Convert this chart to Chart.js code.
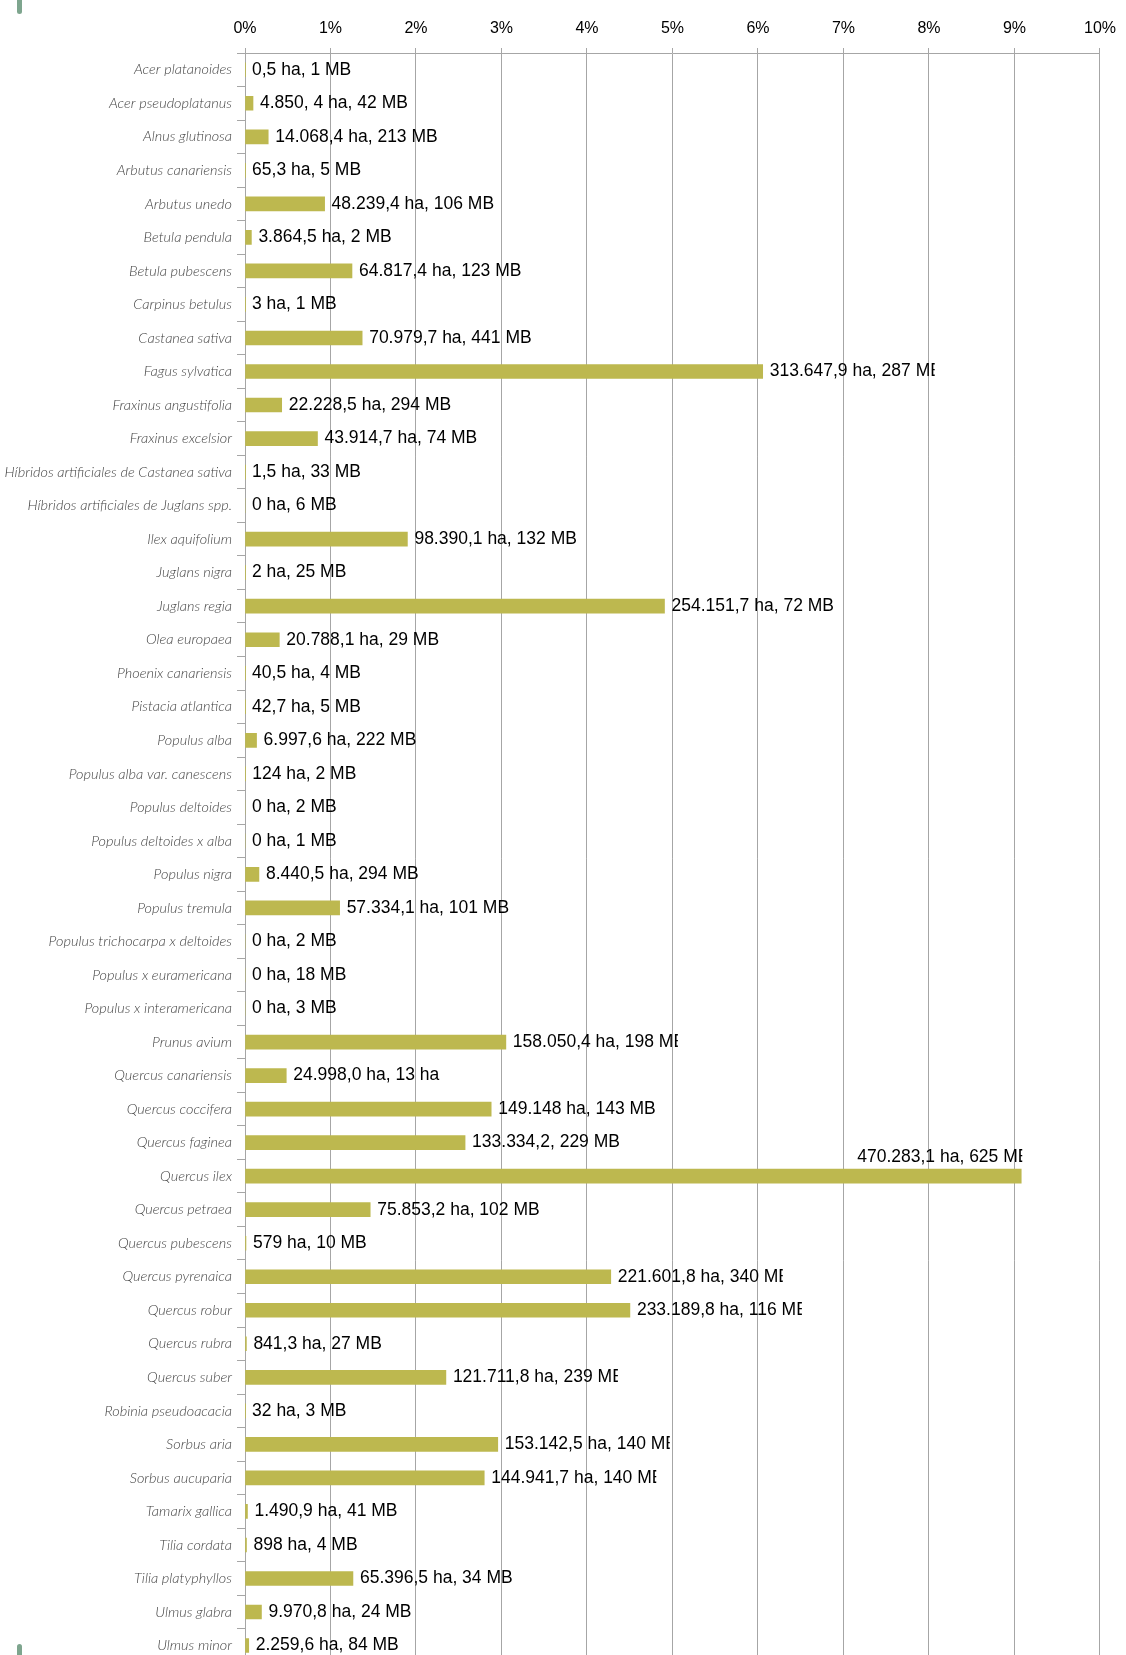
<!DOCTYPE html>
<html lang="es">
<head>
<meta charset="utf-8">
<title>Superficie por especie</title>
<script src="https://cdn.jsdelivr.net/npm/chart.js@4.4.1/dist/chart.umd.min.js"></script>
<style>
  html, body { margin: 0; padding: 0; background: #fff; overflow: hidden; }
  #wrap { position: relative; width: 1126px; height: 1655px; overflow: hidden; }
  #grafico { display: block; }
  .marca { position: absolute; left: 17px; width: 5px; background: #7EA58E; border-radius: 3px; }
</style>
</head>
<body>
<div id="wrap">
  <canvas id="grafico" width="1126" height="1676"></canvas>
  <div class="marca" style="top:-4px;height:18px"></div>
  <div class="marca" style="top:1644px;height:20px"></div>
</div>

<script>
// Especies (eje vertical)
const especies = [
  "Acer platanoides", "Acer pseudoplatanus", "Alnus glutinosa", "Arbutus canariensis",
  "Arbutus unedo", "Betula pendula", "Betula pubescens", "Carpinus betulus",
  "Castanea sativa", "Fagus sylvatica", "Fraxinus angustifolia", "Fraxinus excelsior",
  "Híbridos artificiales de Castanea sativa", "Híbridos artificiales de Juglans spp.",
  "Ilex aquifolium", "Juglans nigra", "Juglans regia", "Olea europaea",
  "Phoenix canariensis", "Pistacia atlantica", "Populus alba", "Populus alba var. canescens",
  "Populus deltoides", "Populus deltoides x alba", "Populus nigra", "Populus tremula",
  "Populus trichocarpa x deltoides", "Populus x euramericana", "Populus x interamericana",
  "Prunus avium", "Quercus canariensis", "Quercus coccifera", "Quercus faginea",
  "Quercus ilex", "Quercus petraea", "Quercus pubescens", "Quercus pyrenaica",
  "Quercus robur", "Quercus rubra", "Quercus suber", "Robinia pseudoacacia",
  "Sorbus aria", "Sorbus aucuparia", "Tamarix gallica", "Tilia cordata",
  "Tilia platyphyllos", "Ulmus glabra", "Ulmus minor"
];

// Superficie (ha) de cada especie
const hectareas = [
  0.5, 4850.4, 14068.4, 65.3,
  48239.4, 3864.5, 64817.4, 3,
  70979.7, 313647.9, 22228.5, 43914.7,
  1.5, 0,
  98390.1, 2, 254151.7, 20788.1,
  40.5, 42.7, 6997.6, 124,
  0, 0, 8440.5, 57334.1,
  0, 0, 0,
  158050.4, 24998.0, 149148, 133334.2,
  470283.1, 75853.2, 579, 221601.8,
  233189.8, 841.3, 121711.8, 32,
  153142.5, 144941.7, 1490.9, 898,
  65396.5, 9970.8, 2259.6
];

// Texto de cada barra
const etiquetas = [
  "0,5 ha, 1 MB", "4.850, 4 ha, 42 MB", "14.068,4 ha, 213 MB", "65,3 ha, 5 MB",
  "48.239,4 ha, 106 MB", "3.864,5 ha, 2 MB", "64.817,4 ha, 123 MB", "3 ha, 1 MB",
  "70.979,7 ha, 441 MB", "313.647,9 ha, 287 MB", "22.228,5 ha, 294 MB", "43.914,7 ha, 74 MB",
  "1,5 ha, 33 MB", "0 ha, 6 MB",
  "98.390,1 ha, 132 MB", "2 ha, 25 MB", "254.151,7 ha, 72 MB", "20.788,1 ha, 29 MB",
  "40,5 ha, 4 MB", "42,7 ha, 5 MB", "6.997,6 ha, 222 MB", "124 ha, 2 MB",
  "0 ha, 2 MB", "0 ha, 1 MB", "8.440,5 ha, 294 MB", "57.334,1 ha, 101 MB",
  "0 ha, 2 MB", "0 ha, 18 MB", "0 ha, 3 MB",
  "158.050,4 ha, 198 MB", "24.998,0 ha, 13 ha", "149.148 ha, 143 MB", "133.334,2, 229 MB",
  "470.283,1 ha, 625 MB", "75.853,2 ha, 102 MB", "579 ha, 10 MB", "221.601,8 ha, 340 MB",
  "233.189,8 ha, 116 MB", "841,3 ha, 27 MB", "121.711,8 ha, 239 MB", "32 ha, 3 MB",
  "153.142,5 ha, 140 MB", "144.941,7 ha, 140 MB", "1.490,9 ha, 41 MB", "898 ha, 4 MB",
  "65.396,5 ha, 34 MB", "9.970,8 ha, 24 MB", "2.259,6 ha, 84 MB"
];

// Marcas del eje superior
const marcasEje = ["0%", "1%", "2%", "3%", "4%", "5%", "6%", "7%", "8%", "9%", "10%"];

// Superficie total de referencia para el porcentaje
const TOTAL_HA = 5180000;
const porcentajes = hectareas.map(h => h / TOTAL_HA * 100);

const ANCHO_ETIQUETA = 166;
const GRIS = "#A6A6A6";

// Dibuja el texto junto a cada barra (recortado a su caja)
const etiquetasBarras = {
  id: "etiquetasBarras",
  afterDatasetsDraw(chart) {
    const ctx = chart.ctx;
    const area = chart.chartArea;
    const meta = chart.getDatasetMeta(0);
    ctx.save();
    ctx.font = '17.5px "Liberation Sans", Arial, sans-serif';
    ctx.fillStyle = "#000";
    ctx.textBaseline = "middle";
    ctx.textAlign = "left";
    meta.data.forEach((barra, i) => {
      let x = barra.x + 7;
      let y = barra.y;
      // si no cabe a la derecha, va encima de la barra
      if (x + ANCHO_ETIQUETA > area.right) {
        x = barra.x - ANCHO_ETIQUETA + 2;
        y = barra.y - 19;
      }
      ctx.save();
      ctx.beginPath();
      ctx.rect(x - 1, y - 14, ANCHO_ETIQUETA, 28);
      ctx.clip();
      ctx.fillText(etiquetas[i], x, y);
      ctx.restore();
    });
    ctx.restore();
  }
};

window.onload = function() {
  const ctx = document.getElementById("grafico").getContext("2d");

  new Chart(ctx, {
    type: "bar",
    data: {
      labels: especies,
      datasets: [{
        data: porcentajes,
        backgroundColor: "#BDB84F",
        borderWidth: 0,
        barThickness: 14
      }]
    },
    options: {
      indexAxis: "y",
      responsive: false,
      devicePixelRatio: 1,
      animation: false,
      layout: { padding: { top: 0, right: 25, bottom: 11, left: 0 } },
      plugins: {
        legend: { display: false },
        tooltip: { enabled: false }
      },
      scales: {
        x: {
          position: "top",
          min: 0,
          max: 10,
          ticks: {
            stepSize: 1,
            maxRotation: 0,
            padding: 10,
            color: "#000",
            font: { family: '"Liberation Sans", Arial, sans-serif', size: 16 },
            callback: v => marcasEje[v]
          },
          grid: { color: GRIS, lineWidth: 1, tickLength: 5 },
          border: { color: GRIS },
          afterFit(scale) { scale.height = 53; }
        },
        y: {
          ticks: {
            autoSkip: false,
            padding: 5,
            color: "#444",
            font: { family: "Lato, 'Open Sans', sans-serif", style: "italic", weight: "300", size: 14.5 }
          },
          grid: { drawOnChartArea: false, offset: true, tickLength: 8, color: GRIS },
          border: { display: true, color: GRIS },
          afterFit(scale) { scale.width = 245; }
        }
      }
    },
    plugins: [etiquetasBarras]
  });
};
</script>
</body>
</html>
